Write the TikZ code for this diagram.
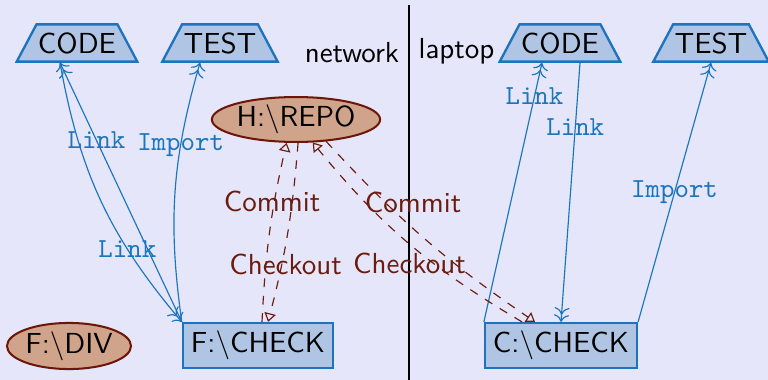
\documentclass[tikz,border=0pt]{standalone}
\usepackage{fontspec}
\usetikzlibrary{shapes.geometric,arrows.meta,calc}
\definecolor{bgc}{HTML}{E6E6FA}
\definecolor{boxfill}{HTML}{B0C4E4}
\definecolor{boxline}{HTML}{1E73BE}
\definecolor{ellfill}{HTML}{D0A48A}
\definecolor{ellline}{HTML}{6B1608}
\definecolor{redtxt}{HTML}{6B1C0E}
\definecolor{bluetxt}{HTML}{1A75BC}
\tikzset{
  trap/.style={shape=trapezium, trapezium angle=62, draw=boxline, fill=boxfill,
    line width=0.8pt, inner xsep=0.5pt, inner ysep=2.73pt,
    font=\sffamily},
  boxn/.style={rectangle, draw=boxline, fill=boxfill, line width=0.8pt,
    inner sep=0pt, minimum width=51.8pt, minimum height=15.5pt, font=\sffamily},
  elln/.style={ellipse, draw=ellline, fill=ellfill, line width=0.7pt,
    inner sep=0pt, font=\sffamily},
  plain/.style={inner sep=0pt, font=\sffamily},
  blueln/.style={draw=bluetxt, line width=0.4pt},
  redln/.style={draw=redtxt, line width=0.4pt, dashed,
    -{Triangle[open,length=3pt,width=4pt]}},
  lk/.style={text=bluetxt, inner sep=0pt, font=\ttfamily\fontsize{9.5}{11}\selectfont},
  rl/.style={text=redtxt, inner sep=0pt, font=\sffamily},
}
\begin{document}
\begin{tikzpicture}[x=0.345pt,y=-0.345pt]
\fill[bgc] (0,0) rectangle (768,380);
\useasboundingbox (0,0) rectangle (768,380);

\draw[black, line width=0.4pt] (409,5) coordinate (vtop) -- (409,380) coordinate (vbot);

\node[trap] (codeL) at (77,43) {CODE};
\node[trap] (testL) at (220,43) {TEST};
\node[trap] (codeR) at (560,43) {CODE};
\node[trap] (testR) at (711,43) {TEST};

\node[plain, anchor=base] (net) at (352,63) {network};
\node[plain, anchor=base] (lap) at (456.5,59) {laptop};

\node[elln, minimum width=58pt, minimum height=15.5pt] (repo) at (296,119.5) {H:\textbackslash REPO};
\node[elln, minimum width=42.8pt, minimum height=15.9pt] (div) at (69,346) {F:\textbackslash DIV};

\node[boxn] (checkF) at (258,345.5) {F:\textbackslash CHECK};
\node[boxn, minimum width=52.4pt] (checkC) at (561,345.5) {C:\textbackslash CHECK};

% left blue links
\draw[blueln,->>] (checkF.north west) -- node[lk,pos=0.7]{Link} ($(codeL.south)+(-17,0)$);
\draw[blueln,->>] ($(codeL.south)+(-17,0)$) to[bend right=15] node[lk,pos=0.7]{Link} (checkF.north west);
\draw[blueln,->>] (checkF.north west) to[bend left=12] node[lk,pos=0.69]{Import} ($(testL.south)+(-20,0)$);

% right blue links
\draw[blueln,->>] (checkC.north west) -- node[lk,pos=0.87]{Link} ($(codeR.south)+(-18,0)$);
\draw[blueln,->>] ($(codeR.south)+(20,0)$) -- node[lk,pos=0.25]{Link} (checkC.north);
\draw[blueln,->>] (checkC.north east) -- node[lk,midway]{Import} (testR.south);

% red commit / checkout
\draw[redln] ($(checkF.north)+(4,0)$) to[bend left=5] node[rl,pos=0.67,shift={(-2,-2)}]{Commit} (repo.-112);
\draw[redln] (repo.-85) to[bend left=5] node[rl,pos=0.69,shift={(4,0)}]{Checkout} ($(checkF.north)+(10,0)$);
\draw[redln] ($(checkC.north)+(-39,0)$) to[bend left=10] node[rl,pos=0.66,shift={(35,-13)}]{Commit} (repo.-54);
\draw[redln] (repo.-36) to[bend right=6.5] node[rl,pos=0.70,shift={(-55,-8)}]{Checkout} ($(checkC.north)+(-26,0)$);
\end{tikzpicture}
\end{document}
